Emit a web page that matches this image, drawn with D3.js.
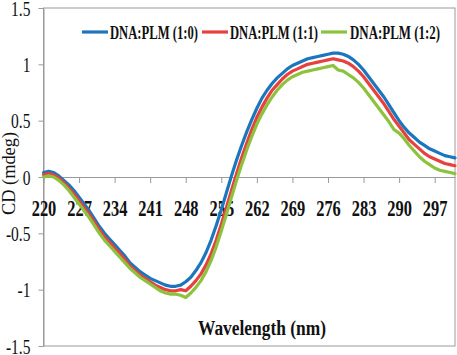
<!DOCTYPE html>
<html><head><meta charset="utf-8">
<script src="https://cdn.jsdelivr.net/npm/d3@7"></script>
<style>
html,body{margin:0;padding:0;background:#fff;}
svg{display:block;}
</style></head>
<body>
<svg id="chart" width="457" height="355"></svg>
<script>
// ---- data ----
const wavelengths = d3.range(220, 302); // 220..301 nm, 1 nm steps
const seriesNames = ["DNA:PLM (1:0)", "DNA:PLM (1:1)", "DNA:PLM (1:2)"];
const blueValues = [
  0.04, 0.05, 0.04, 0.01, -0.03, -0.07, -0.12, -0.18, -0.24, -0.30,
  -0.37, -0.44, -0.50, -0.55, -0.60, -0.65, -0.70, -0.76, -0.80, -0.84,
  -0.87, -0.90, -0.92, -0.94, -0.96, -0.97, -0.97, -0.96, -0.93, -0.89,
  -0.83, -0.76, -0.67, -0.56, -0.43, -0.29, -0.14, 0.01, 0.15, 0.28,
  0.40, 0.51, 0.61, 0.70, 0.77, 0.83, 0.88, 0.92, 0.96, 0.99,
  1.01, 1.03, 1.05, 1.06, 1.07, 1.08, 1.09, 1.10, 1.10, 1.09,
  1.07, 1.04, 1.00, 0.95, 0.89, 0.83, 0.77, 0.71, 0.64, 0.57,
  0.50, 0.44, 0.39, 0.35, 0.31, 0.28, 0.25, 0.23, 0.21, 0.19,
  0.18, 0.17
];
const redValues = [
  0.02, 0.03, 0.02, -0.01, -0.05, -0.10, -0.15, -0.21, -0.27, -0.33,
  -0.40, -0.47, -0.53, -0.58, -0.63, -0.68, -0.73, -0.79, -0.83, -0.87,
  -0.90, -0.93, -0.96, -0.98, -1.00, -1.01, -1.01, -1.00, -1.01, -0.97,
  -0.92, -0.86, -0.78, -0.68, -0.56, -0.42, -0.27, -0.12, 0.03, 0.17,
  0.30, 0.42, 0.53, 0.62, 0.70, 0.77, 0.82, 0.87, 0.91, 0.94,
  0.96, 0.98, 1.00, 1.01, 1.02, 1.03, 1.04, 1.05, 1.04, 1.03,
  1.01, 0.98, 0.94, 0.89, 0.83, 0.77, 0.71, 0.65, 0.58, 0.51,
  0.45, 0.39, 0.33, 0.29, 0.25, 0.21, 0.18, 0.16, 0.14, 0.12,
  0.11, 0.10
];
const greenValues = [
  0.00, 0.01, 0.00, -0.03, -0.07, -0.12, -0.18, -0.24, -0.30, -0.36,
  -0.43, -0.50, -0.56, -0.61, -0.66, -0.71, -0.76, -0.81, -0.85, -0.89,
  -0.92, -0.95, -0.98, -1.01, -1.03, -1.04, -1.04, -1.05, -1.07, -1.03,
  -0.98, -0.92, -0.84, -0.74, -0.62, -0.48, -0.33, -0.18, -0.03, 0.11,
  0.24, 0.36, 0.47, 0.56, 0.64, 0.71, 0.77, 0.82, 0.86, 0.89,
  0.91, 0.93, 0.94, 0.95, 0.96, 0.97, 0.98, 0.99, 0.95, 0.94,
  0.91, 0.88, 0.84, 0.79, 0.73, 0.67, 0.61, 0.55, 0.49, 0.42,
  0.39, 0.34, 0.28, 0.23, 0.18, 0.14, 0.11, 0.08, 0.06, 0.05,
  0.04, 0.03
];
const xTickValues = [220, 227, 234, 241, 248, 255, 262, 269, 276, 283, 290, 297];
const xTickLabels = ["220", "227", "234", "241", "248", "255", "262", "269", "276", "283", "290", "297"];
const yTickValues = [-1.5, -1, -0.5, 0, 0.5, 1, 1.5];
const yTickLabels = ["-1.5", "-1", "-0.5", "0", "0.5", "1", "1.5"];
const colors = ["#1b76bd", "#e6403f", "#8dc23f"];

// ---- layout ----
const svg = d3.select("#chart");
const plotL = 43.5, plotR = 455, plotT = 8, plotB = 346;
const x = d3.scaleLinear().domain([220, 301]).range([plotL, plotR]);
const y = d3.scaleLinear().domain([-1.5, 1.5]).range([plotB, plotT]);
const serif = '"Liberation Serif", "Times New Roman", Tinos, serif';
const axisColor = "#9a9a9a";

svg.append("rect").attr("x", plotL).attr("y", plotT)
  .attr("width", plotR - plotL).attr("height", plotB - plotT)
  .attr("fill", "none").attr("stroke", axisColor).attr("stroke-width", 1);

// y axis
const yAxis = d3.axisLeft(y).tickValues(yTickValues)
  .tickFormat(d => yTickLabels[yTickValues.indexOf(d)])
  .tickSize(5).tickSizeOuter(0);
const gy = svg.append("g").attr("transform", `translate(${plotL},0)`).call(yAxis);
gy.attr("font-family", null).attr("font-size", null);
gy.select(".domain").attr("stroke", axisColor);
gy.selectAll(".tick line").attr("stroke", axisColor);
const ySx = 0.74;
gy.selectAll(".tick text")
  .style("font-family", serif).attr("font-size", 21).attr("fill", "#111")
  .attr("text-anchor", "end").attr("dy", 0).attr("y", 7)
  .attr("x", -13 / ySx)
  .attr("transform", `scale(${ySx},1)`);

// x axis at zero
const xAxis = d3.axisBottom(x).tickValues(xTickValues)
  .tickFormat(d => xTickLabels[xTickValues.indexOf(d)])
  .tickSize(6).tickSizeOuter(0);
const gx = svg.append("g").attr("transform", `translate(0,${y(0)})`).call(xAxis);
gx.attr("font-family", null).attr("font-size", null);
gx.select(".domain").attr("stroke", axisColor);
gx.selectAll(".tick line").attr("stroke", axisColor);
const xSx = 0.70;
gx.selectAll(".tick text")
  .style("font-family", serif).attr("font-size", 23.5).attr("font-weight", "bold")
  .attr("fill", "#111").attr("dy", 0).attr("y", 39)
  .attr("transform", `scale(${xSx},1)`)
  .attr("x", 0);

// series
const allValues = [blueValues, redValues, greenValues];
const line = d3.line().x((d, i) => x(wavelengths[i])).y(d => y(d)).curve(d3.curveLinear);
allValues.forEach((vals, k) => {
  svg.append("path").datum(vals)
    .attr("d", line)
    .attr("fill", "none").attr("stroke", colors[k])
    .attr("stroke-width", 3.2).attr("stroke-linejoin", "round").attr("stroke-linecap", "round");
});

// legend
const legendItems = [
  {x1: 82, x2: 108, tx: 110, w: 88},
  {x1: 202, x2: 228, tx: 230, w: 88},
  {x1: 321, x2: 347, tx: 350, w: 90}
];
const legendY = 32;
legendItems.forEach((it, k) => {
  svg.append("line").attr("x1", it.x1).attr("x2", it.x2).attr("y1", legendY).attr("y2", legendY)
    .attr("stroke", colors[k]).attr("stroke-width", 3.2);
  svg.append("text").attr("x", it.tx).attr("y", legendY + 6.5)
    .style("font-family", serif).attr("font-size", 18.5).attr("font-weight", "bold").attr("fill", "#111")
    .attr("textLength", it.w).attr("lengthAdjust", "spacingAndGlyphs")
    .text(seriesNames[k]);
});

// axis titles
svg.append("text").attr("x", 198).attr("y", 335)
  .style("font-family", serif).attr("font-size", 20).attr("font-weight", "bold").attr("fill", "#111")
  .attr("textLength", 128).attr("lengthAdjust", "spacingAndGlyphs")
  .text("Wavelength (nm)");
svg.append("text")
  .attr("transform", "translate(15,215) rotate(-90)")
  .style("font-family", serif).attr("font-size", 19.5).attr("fill", "#111")
  .attr("textLength", 83).attr("lengthAdjust", "spacingAndGlyphs")
  .text("CD (mdeg)");
</script>
</body></html>
